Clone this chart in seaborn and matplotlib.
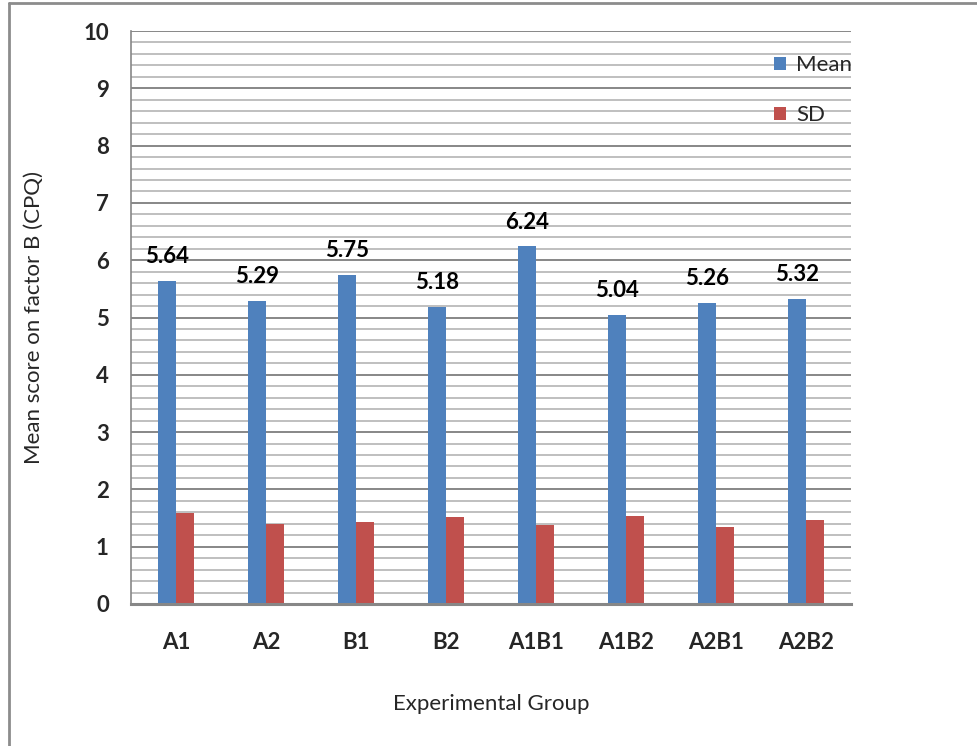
import matplotlib
matplotlib.use("Agg")
import matplotlib.pyplot as plt
from matplotlib.lines import Line2D
from matplotlib.patches import Patch
from matplotlib.ticker import MultipleLocator
import numpy as np
import pandas as pd
import seaborn as sns

# Experimental groups and the CPQ factor B scores
groups = ["A1", "A2", "B1", "B2", "A1B1", "A1B2", "A2B1", "A2B2"]
mean_scores = [5.64, 5.29, 5.75, 5.18, 6.24, 5.04, 5.26, 5.32]
sd_scores = [1.59, 1.40, 1.43, 1.52, 1.38, 1.54, 1.35, 1.47]
series_names = ["Mean", "SD"]
y_ticks = list(range(0, 11))

BLUE = "#4F81BD"
RED = "#C0504D"
MAJOR_GRID = "#878787"
MINOR_GRID = "#b4b4b4"
FS = 16
WEIGHT = "bold"

sns.set_theme(style="white")
plt.rcParams["font.family"] = ["Lato", "DejaVu Sans"]

df = pd.DataFrame({
    "Group": groups * 2,
    "Score": mean_scores + sd_scores,
    "Series": [series_names[0]] * len(groups) + [series_names[1]] * len(groups),
})

W, H = 977, 746
fig = plt.figure(figsize=(W / 100, H / 100), dpi=100)
ax = fig.add_axes([131 / W, 1 - 604 / H, (851 - 131) / W, (604 - 31) / H])

sns.barplot(
    data=df, x="Group", y="Score", hue="Series", order=groups,
    hue_order=series_names, palette=[BLUE, RED], width=0.4,
    saturation=1, errorbar=None, ax=ax, legend=False, zorder=3,
    linewidth=0, edgecolor="none",
)

# value labels above the mean bars
ax.bar_label(ax.containers[0], labels=[f"{v:.2f}" for v in mean_scores],
             padding=10, fontsize=FS, fontweight=WEIGHT, color="black")

ax.set_ylim(0, 10)
ax.set_xlim(-0.5, len(groups) - 0.5)
ax.set_yticks(y_ticks)
ax.yaxis.set_minor_locator(MultipleLocator(0.2))
ax.grid(axis="y", which="major", color=MAJOR_GRID, linewidth=1.4, zorder=0)
ax.grid(axis="y", which="minor", color=MINOR_GRID, linewidth=1.2, zorder=0)
ax.set_axisbelow(True)

for side in ["top", "right"]:
    ax.spines[side].set_visible(False)
ax.spines["left"].set_color(MAJOR_GRID)
ax.spines["left"].set_linewidth(1.2)
ax.spines["bottom"].set_color(MAJOR_GRID)
ax.spines["bottom"].set_linewidth(2.2)
ax.spines["bottom"].set_zorder(4)

ax.tick_params(axis="y", which="major", direction="out", length=6, width=1.2,
               color=MAJOR_GRID, pad=10, labelsize=FS)
ax.tick_params(axis="y", which="minor", length=0)
ax.tick_params(axis="x", length=0, pad=20, labelsize=FS)
for lbl in ax.get_xticklabels() + ax.get_yticklabels():
    lbl.set_fontweight(WEIGHT)

ax.set_xlabel("Experimental Group", fontsize=FS, labelpad=30)
ax.set_ylabel("Mean score on factor B (CPQ)", fontsize=FS, labelpad=28)

handles = [Patch(facecolor=BLUE, edgecolor="none"), Patch(facecolor=RED, edgecolor="none")]
ax.legend(handles, series_names, loc="upper left", bbox_to_anchor=(0.893, 0.958),
          frameon=False, fontsize=FS, handlelength=0.55, handleheight=0.55,
          handletextpad=0.45, labelspacing=1.35, borderpad=0, borderaxespad=0)

# chart border along the left and top edges
fig.add_artist(Line2D([9 / W, 9 / W], [0, 1 - 3 / H], transform=fig.transFigure,
                      color="#8c8c8c", linewidth=2))
fig.add_artist(Line2D([9 / W, 1], [1 - 3 / H, 1 - 3 / H], transform=fig.transFigure,
                      color="#8c8c8c", linewidth=2))

fig.savefig("out.png", dpi=100, facecolor="white")
